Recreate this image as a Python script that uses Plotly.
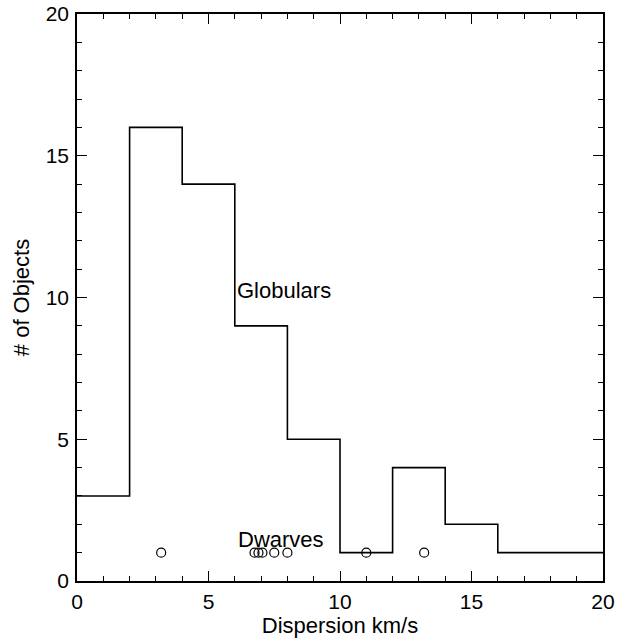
import plotly.graph_objects as go

bin_edges = [0, 2, 4, 6, 8, 10, 12, 14, 16, 18, 20]
globular_counts = [3, 16, 14, 9, 5, 1, 4, 2, 1, 1]
dwarf_dispersion = [3.2, 6.75, 6.9, 7.05, 7.5, 8.0, 11.0, 13.2]
dwarf_level = [1] * len(dwarf_dispersion)

hist_x = bin_edges
hist_y = globular_counts + [globular_counts[-1]]

tick_vals = [0, 5, 10, 15, 20]
tick_text = ["0", "5", "10", "15", "20"]

font = "Liberation Sans, Arial, Helvetica, sans-serif"

fig = go.Figure()
fig.add_trace(go.Scatter(x=hist_x, y=hist_y, mode="lines", line=dict(shape="hv", color="black", width=1.6),
                         showlegend=False, hoverinfo="skip"))
fig.add_trace(go.Scatter(x=dwarf_dispersion, y=dwarf_level, mode="markers",
                         marker=dict(symbol="circle-open", size=9, color="black", line=dict(width=1.2)),
                         showlegend=False))

fig.add_annotation(x=6.02, y=10.26, text="Globulars", showarrow=False, xanchor="left", yanchor="middle",
                   font=dict(family=font, size=22, color="black"))
fig.add_annotation(x=6.05, y=1.45, text="Dwarves", showarrow=False, xanchor="left", yanchor="middle",
                   font=dict(family=font, size=22, color="black"))

axis_common = dict(showgrid=False, zeroline=False, showline=True, linecolor="black", linewidth=1.6,
                   mirror="allticks", ticks="inside", ticklen=10, tickwidth=1.3, tickcolor="black",
                   automargin=False,
                   tickfont=dict(family=font, size=21, color="black"),
                   minor=dict(ticks="inside", ticklen=5, tickwidth=1.3, tickcolor="black", dtick=1, showgrid=False))

fig.update_xaxes(range=[0, 20], tickvals=tick_vals, ticktext=tick_text, ticklabelstandoff=1,
                 title=dict(text="Dispersion km/s", font=dict(family=font, size=22, color="black"), standoff=2),
                 **axis_common)
fig.update_yaxes(range=[0, 20], tickvals=tick_vals, ticktext=tick_text, ticklabelstandoff=2,
                 title=dict(text="# of Objects", font=dict(family=font, size=22, color="black"), standoff=10),
                 **axis_common)

fig.update_layout(width=617, height=640, margin=dict(l=77, r=14, t=14, b=59, autoexpand=False),
                  plot_bgcolor="white", paper_bgcolor="white")

fig.write_html("out.html", config={"displayModeBar": False},
               post_script="document.body.style.margin='0';")
